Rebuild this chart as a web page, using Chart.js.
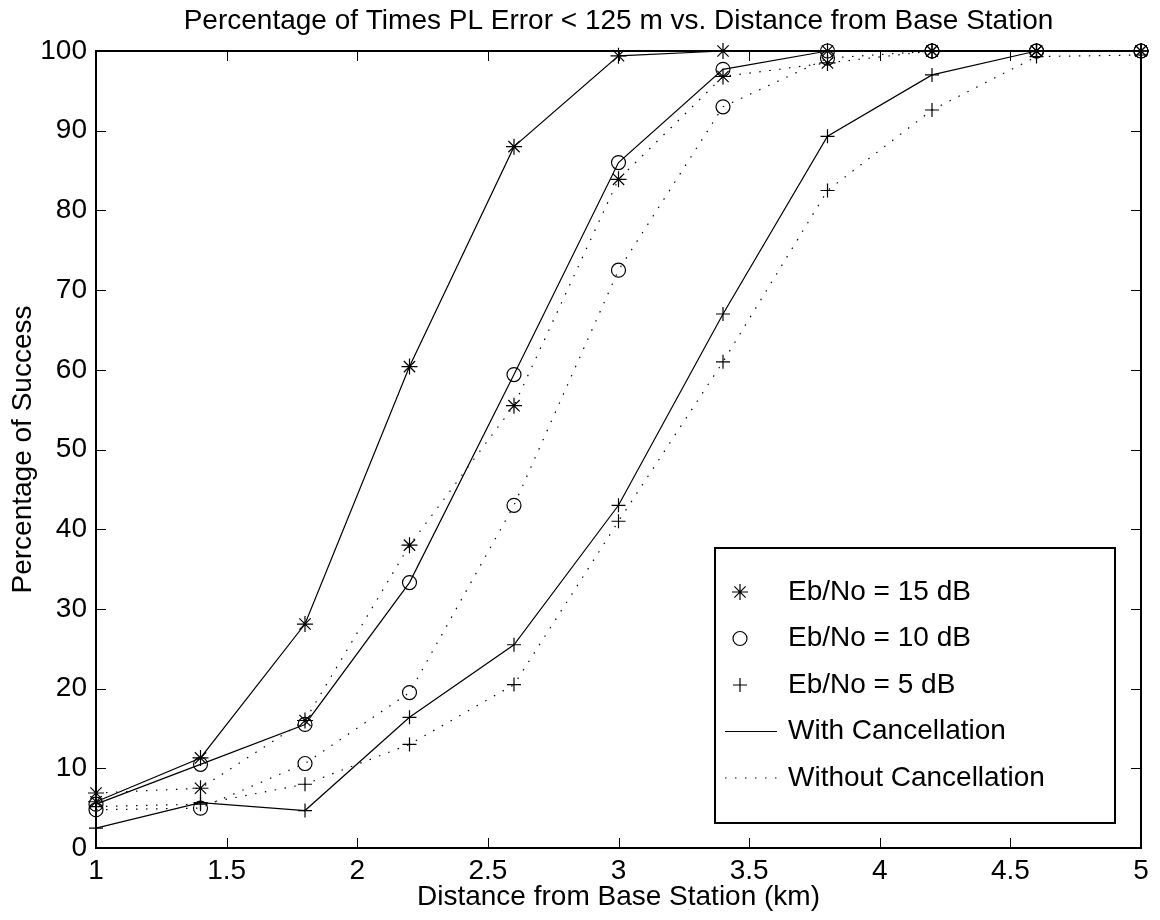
<!DOCTYPE html>
<html>
<head>
<meta charset="utf-8">
<title>Percentage of Times PL Error &lt; 125 m vs. Distance from Base Station</title>
<script src="https://cdn.jsdelivr.net/npm/chart.js@4/dist/chart.umd.min.js"></script>
<style>
  html, body { margin: 0; padding: 0; background: #fff; }
</style>
</head>
<body>
<canvas id="chart" width="1160" height="920"></canvas>
<script>
// Distancias (km) y porcentaje de éxito
const distances = [1, 1.4, 1.8, 2.2, 2.6, 3.0, 3.4, 3.8, 4.2, 4.6, 5.0];
const with15 = [5.8, 11.3, 28.1, 60.4, 88.0, 99.4, 100, 100, 100, 100, 100];
const without15 = [6.9, 7.5, 16.0, 38.0, 55.5, 83.9, 96.8, 98.5, 100, 100, 100];
const with10 = [5.5, 10.5, 15.5, 33.3, 59.4, 86.0, 97.7, 100, 100, 100, 100];
const without10 = [4.8, 5.0, 10.6, 19.5, 43.0, 72.5, 93.0, 99.1, 100, 100, 100];
const with5 = [2.5, 5.7, 4.7, 16.4, 25.5, 43.0, 67.0, 89.3, 97.0, 100, 100];
const without5 = [5.2, 5.5, 8.0, 13.0, 20.5, 41.0, 61.0, 82.5, 92.6, 99.3, 99.5];

const legendLabels = ["Eb/No = 15 dB", "Eb/No = 10 dB", "Eb/No = 5 dB", "With Cancellation", "Without Cancellation"];

const FONT = "'Liberation Sans', Arial, Helvetica, sans-serif";
const FONT_SIZE = 28;
const TICK_LEN = 10;
const DOTTED = [1.5, 8.5];
const MARKER_SIZE = { star: 8, circle: 7, cross: 7 };

function toPoints(values) {
  return values.map((v, i) => ({ x: distances[i], y: v }));
}

function makeDataset(values, marker, dotted) {
  return {
    data: toPoints(values),
    borderColor: "#000",
    borderWidth: 1.2,
    borderDash: dotted ? DOTTED : [],
    pointStyle: marker,
    pointRadius: MARKER_SIZE[marker],
    pointBorderColor: "#000",
    pointBackgroundColor: "rgba(0,0,0,0)",
    pointBorderWidth: 1.2,
    tension: 0,
    fill: false,
    clip: false,
  };
}

// Caja de ejes con marcas hacia dentro en los cuatro lados (estilo MATLAB)
const axesBox = {
  id: "axesBox",
  afterDatasetsDraw(chart) {
    const { ctx, chartArea: a, scales } = chart;
    ctx.save();
    ctx.strokeStyle = "#000";
    ctx.lineWidth = 1;
    ctx.beginPath();
    scales.x.ticks.forEach((t) => {
      const px = Math.round(scales.x.getPixelForValue(t.value)) + 0.5;
      ctx.moveTo(px, a.bottom);
      ctx.lineTo(px, a.bottom - TICK_LEN);
      ctx.moveTo(px, a.top);
      ctx.lineTo(px, a.top + TICK_LEN);
    });
    scales.y.ticks.forEach((t) => {
      const py = Math.round(scales.y.getPixelForValue(t.value)) + 0.5;
      ctx.moveTo(a.left, py);
      ctx.lineTo(a.left + TICK_LEN, py);
      ctx.moveTo(a.right, py);
      ctx.lineTo(a.right - TICK_LEN, py);
    });
    ctx.stroke();
    ctx.lineWidth = 2;
    ctx.strokeRect(a.left, a.top, a.right - a.left, a.bottom - a.top);
    ctx.restore();
  },
};

// Leyenda dentro del área del gráfico
const boxLegend = {
  id: "boxLegend",
  afterDraw(chart) {
    const { ctx } = chart;
    const box = { left: 715, top: 548, right: 1115, bottom: 823 };
    const markerX = 740;
    const textX = 788;
    const firstRow = 592;
    const rowGap = 46.5;

    ctx.save();
    ctx.fillStyle = "#fff";
    ctx.fillRect(box.left, box.top, box.right - box.left, box.bottom - box.top);
    ctx.strokeStyle = "#000";
    ctx.lineWidth = 2;
    ctx.strokeRect(box.left, box.top, box.right - box.left, box.bottom - box.top);

    ctx.lineWidth = 1.2;
    legendLabels.forEach((label, i) => {
      const y = firstRow + i * rowGap;
      ctx.beginPath();
      ctx.setLineDash([]);
      if (i === 0) {
        // asterisco
        const r = MARKER_SIZE.star;
        ctx.moveTo(markerX - r, y); ctx.lineTo(markerX + r, y);
        ctx.moveTo(markerX, y - r); ctx.lineTo(markerX, y + r);
        const d = r * 0.7071;
        ctx.moveTo(markerX - d, y - d); ctx.lineTo(markerX + d, y + d);
        ctx.moveTo(markerX - d, y + d); ctx.lineTo(markerX + d, y - d);
      } else if (i === 1) {
        ctx.arc(markerX, y, MARKER_SIZE.circle, 0, Math.PI * 2);
      } else if (i === 2) {
        const r = MARKER_SIZE.cross;
        ctx.moveTo(markerX - r, y); ctx.lineTo(markerX + r, y);
        ctx.moveTo(markerX, y - r); ctx.lineTo(markerX, y + r);
      } else {
        if (i === 4) ctx.setLineDash(DOTTED);
        ctx.moveTo(725, y); ctx.lineTo(777, y);
      }
      ctx.stroke();

      ctx.setLineDash([]);
      ctx.fillStyle = "#000";
      ctx.font = `${FONT_SIZE}px ${FONT}`;
      ctx.textAlign = "left";
      ctx.textBaseline = "middle";
      ctx.fillText(label, textX, y);
    });
    ctx.restore();
  },
};

const ctx = document.getElementById("chart").getContext("2d");
new Chart(ctx, {
  type: "line",
  data: {
    datasets: [
      makeDataset(with15, "star", false),
      makeDataset(with10, "circle", false),
      makeDataset(with5, "cross", false),
      makeDataset(without15, "star", true),
      makeDataset(without10, "circle", true),
      makeDataset(without5, "cross", true),
    ],
  },
  options: {
    responsive: false,
    animation: false,
    devicePixelRatio: 1,
    layout: { padding: { left: 0, right: 19, top: 0, bottom: 0 } },
    scales: {
      x: {
        type: "linear",
        min: 1,
        max: 5,
        grid: { display: false, drawTicks: false },
        border: { display: false },
        ticks: {
          stepSize: 0.5,
          color: "#000",
          padding: 6,
          maxRotation: 0,
          font: { family: FONT, size: FONT_SIZE },
          callback: (v) => String(Number(v.toFixed(1))),
        },
        title: {
          display: true,
          text: "Distance from Base Station (km)",
          color: "#000",
          padding: { top: 0, bottom: 6 },
          font: { family: FONT, size: FONT_SIZE },
        },
        afterFit(scale) {
          scale.height = 72;
          scale.paddingLeft = 0;
          scale.paddingRight = 0;
        },
      },
      y: {
        type: "linear",
        min: 0,
        max: 100,
        grid: { display: false, drawTicks: false },
        border: { display: false },
        ticks: {
          stepSize: 10,
          color: "#000",
          padding: 9,
          font: { family: FONT, size: FONT_SIZE },
        },
        title: {
          display: true,
          text: "Percentage of Success",
          color: "#000",
          padding: { top: 6, bottom: 0 },
          font: { family: FONT, size: FONT_SIZE },
        },
        afterFit(scale) {
          scale.width = 96;
          scale.paddingTop = 0;
          scale.paddingBottom = 0;
        },
      },
    },
    plugins: {
      legend: { display: false },
      tooltip: { enabled: false },
      title: {
        display: true,
        fullSize: false,
        text: "Percentage of Times PL Error < 125 m vs. Distance from Base Station",
        color: "#000",
        padding: { top: 4, bottom: 13.4 },
        font: { family: FONT, size: FONT_SIZE, weight: "normal" },
      },
    },
  },
  plugins: [axesBox, boxLegend],
});
</script>
</body>
</html>
